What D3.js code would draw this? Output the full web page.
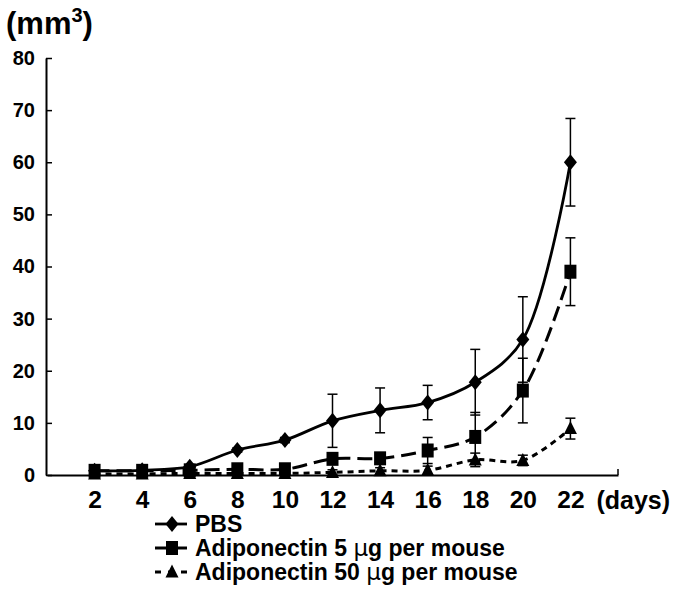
<!DOCTYPE html>
<html>
<head>
<meta charset="utf-8">
<script src="https://cdn.jsdelivr.net/npm/d3@7"></script>
<style>
  html, body { margin: 0; padding: 0; background: #fff; }
  svg { display: block; }
  text { font-family: "Liberation Sans", Arial, sans-serif; font-weight: bold; fill: #000; }
</style>
</head>
<body>
<svg id="chart" width="677" height="592"></svg>
<script>
// ---- data ----
const days = [2, 4, 6, 8, 10, 12, 14, 16, 18, 20, 22];
const pbs      = [0.8, 0.9, 1.6, 4.8, 6.7, 10.4, 12.4, 13.9, 17.8, 26.0, 60.0];
const pbsErr   = [0.3, 0.3, 0.3, 0.4, 0.5, 5.1, 4.3, 3.3, 6.3, 8.2, 8.4];
const adi5     = [0.8, 0.8, 0.9, 1.1, 1.1, 3.1, 3.2, 4.7, 7.3, 16.2, 39.0];
const adi5Err  = [0.3, 0.3, 0.3, 0.3, 0.3, 1.0, 0.8, 2.5, 4.7, 6.2, 6.5];
const adi50    = [0.2, 0.2, 0.3, 0.3, 0.3, 0.5, 0.8, 0.9, 2.9, 2.8, 8.9];
const adi50Err = [0.2, 0.2, 0.2, 0.3, 0.3, 0.5, 0.6, 0.8, 1.3, 1.0, 2.0];
const yTicks = [0, 10, 20, 30, 40, 50, 60, 70, 80];
const seriesNames = ["PBS", "Adiponectin 5 ", "Adiponectin 50 "];
const unitMu = "\u03bcg";
const unitRest = " per mouse";
const yTitle = "(mm";
const xUnit = "(days)";

const series = [
  { name: seriesNames[0], values: pbs,   err: pbsErr,   marker: "diamond",  dash: null,   legDash: null,  width: 2.8 },
  { name: seriesNames[1], values: adi5,  err: adi5Err,  marker: "square",   dash: "15,7", legDash: null,  width: 3 },
  { name: seriesNames[2], values: adi50, err: adi50Err, marker: "triangle", dash: "6,5",  legDash: "6,7", width: 3 }
];

const svg = d3.select("#chart");
const x = d3.scaleLinear().domain([0, 24]).range([47, 618]);
const y = d3.scaleLinear().domain([0, 80]).range([475, 58]);

// y axis
const yAxis = d3.axisLeft(y).tickValues(yTicks).tickSizeInner(-6).tickSizeOuter(0).tickPadding(11);
const gy = svg.append("g").attr("transform", `translate(${x(0) - 1},0)`).call(yAxis);
gy.select(".domain").attr("stroke", "#000").attr("stroke-width", 2);
gy.selectAll(".tick line").attr("stroke", "#000").attr("stroke-width", 1.5);
gy.selectAll(".tick text").style("font-size", "20px").attr("font-family", null).attr("fill", "#000");

// x axis
const xAxis = d3.axisBottom(x).tickValues(days).tickSize(0).tickPadding(16);
const gx = svg.append("g").attr("transform", `translate(0,${y(0)})`).call(xAxis);
gx.select(".domain").attr("stroke", "#000").attr("stroke-width", 2);
gx.selectAll(".tick text").style("font-size", "24.5px").attr("font-family", null).attr("fill", "#000");
gx.append("line").attr("x1", x(24)).attr("x2", x(24)).attr("y1", 0).attr("y2", -6)
  .attr("stroke", "#000").attr("stroke-width", 1.5);
svg.append("text").attr("x", x(22) + 26).attr("y", y(0) + 33.5).style("font-size", "25px").text(xUnit);

// y title
const yt = svg.append("text").attr("x", 6).attr("y", 34).style("font-size", "31px");
yt.append("tspan").text(yTitle);
yt.append("tspan").attr("dy", -12).style("font-size", "20px").text("3");
yt.append("tspan").attr("dy", 12).text(")");

// markers
function markerPath(type, cx, cy) {
  if (type === "diamond") return `M${cx},${cy - 8}L${cx + 6.5},${cy}L${cx},${cy + 8}L${cx - 6.5},${cy}Z`;
  if (type === "square") return `M${cx - 6},${cy - 7}h12v14h-12Z`;
  return `M${cx},${cy - 7.5}L${cx + 6.5},${cy + 5.5}L${cx - 6.5},${cy + 5.5}Z`;
}

const line = d3.line().curve(d3.curveCatmullRom.alpha(0.5));

// draw series (back to front: triangles, squares, diamonds)
[...series].reverse().forEach(s => {
  const pts = days.map((d, i) => [x(d), y(s.values[i])]);
  const g = svg.append("g");
  days.forEach((d, i) => {
    const cx = x(d), top = y(s.values[i] + s.err[i]), bot = y(s.values[i] - s.err[i]);
    g.append("line").attr("x1", cx).attr("x2", cx).attr("y1", top).attr("y2", bot)
      .attr("stroke", "#000").attr("stroke-width", 1.5);
    [top, bot].forEach(yy => g.append("line").attr("x1", cx - 5).attr("x2", cx + 5)
      .attr("y1", yy).attr("y2", yy).attr("stroke", "#000").attr("stroke-width", 1.5));
  });
  g.append("path").attr("d", line(pts)).attr("fill", "none").attr("stroke", "#000")
    .attr("stroke-width", s.width).attr("stroke-dasharray", s.dash);
  pts.forEach(p => g.append("path").attr("d", markerPath(s.marker, p[0], p[1])).attr("fill", "#000"));
});

// legend
const legY = [524, 548, 572];
series.forEach((s, i) => {
  const ly = legY[i];
  const g = svg.append("g");
  g.append("line").attr("x1", 155).attr("x2", 187).attr("y1", ly).attr("y2", ly)
    .attr("stroke", "#000").attr("stroke-width", s.width)
    .attr("stroke-dasharray", s.legDash);
  g.append("path").attr("d", markerPath(s.marker, 172, ly)).attr("fill", "#000");
  const t = g.append("text").attr("x", 195).attr("y", ly + 8).style("font-size", "23px");
  t.append("tspan").text(s.name);
  if (i > 0) {
    t.append("tspan").style("font-weight", "normal").style("font-family", "'DejaVu Sans', sans-serif").text(unitMu.charAt(0));
    t.append("tspan").text(unitMu.slice(1) + unitRest);
  }
});
</script>
</body>
</html>
